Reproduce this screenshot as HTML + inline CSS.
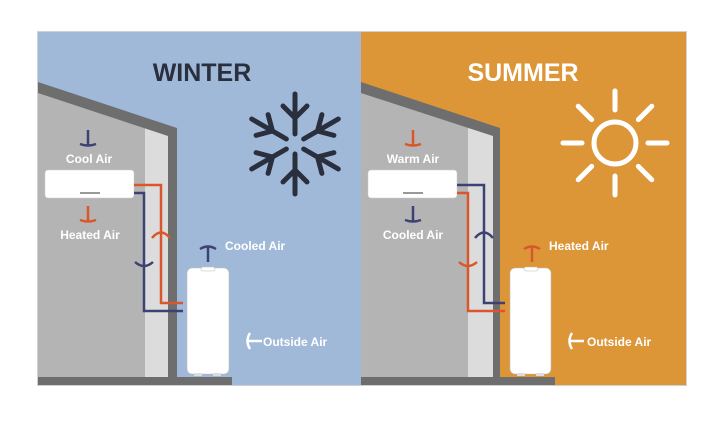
<!DOCTYPE html>
<html><head><style>
html,body{margin:0;padding:0;background:#fff;}
svg{display:block}
text{font-family:"Liberation Sans",sans-serif;font-weight:bold;}
</style></head><body>
<svg width="723" height="425" viewBox="0 0 723 425" xmlns="http://www.w3.org/2000/svg">
<defs>
<g id="arm" stroke="#2a2f3e" stroke-width="5" stroke-linecap="round" fill="none">
  <line x1="0" y1="-10" x2="0" y2="-50"/>
  <polyline points="-12,-38 0,-26 12,-38"/>
</g>
<g id="ray" stroke="#fff" stroke-width="5" stroke-linecap="round">
  <line x1="0" y1="-33" x2="0" y2="-52"/>
</g>
</defs>
<!-- frame -->
<rect x="37.5" y="31.5" width="649" height="354" fill="none" stroke="#d0d0d0"/>
<!-- WINTER -->
<rect x="38" y="32" width="323" height="353" fill="#a1b9d9"/>
<polygon points="38,92 177,138 177,385 38,385" fill="#b4b4b4"/>
<polygon points="145,128 168,134 168,385 145,385" fill="#dcdcdc"/>
<polygon points="38,82 177,128 177,378 168,378 168,136 38,93" fill="#6e6e6e"/>
<rect x="38" y="377" width="194" height="8" fill="#6e6e6e"/>
<text x="202" y="81" font-size="25" fill="#2a2f3e" text-anchor="middle">WINTER</text>
<g transform="translate(295,144)">
<use href="#arm"/><use href="#arm" transform="rotate(60)"/><use href="#arm" transform="rotate(120)"/><use href="#arm" transform="rotate(180)"/><use href="#arm" transform="rotate(240)"/><use href="#arm" transform="rotate(300)"/>
</g>
<rect x="45" y="170" width="89" height="28" rx="3" fill="#fff" stroke="#ccc" stroke-width="0.5"/>
<rect x="80" y="192" width="20" height="2" fill="#999"/>
<polyline points="134,185 161,185 161,303 183,303" fill="none" stroke="#d9572a" stroke-width="2.5"/>
<polyline points="134,193 144,193 144,311 183,311" fill="none" stroke="#3c4274" stroke-width="2.5"/>
<path d="M152,238 Q161,227 170,238" fill="none" stroke="#d9572a" stroke-width="2.5"/>
<path d="M135,262 Q144,270 153,262" fill="none" stroke="#3c4274" stroke-width="2.5"/>
<g fill="none" stroke-width="2.5">
<path d="M88,130 V146 M80,144 Q88,147 96,144" stroke="#3c4274"/>
<path d="M88,206 V222 M80,220 Q88,223 96,220" stroke="#d9572a"/>
<path d="M208,262 V246 M200,249 Q208,244 216,249" stroke="#3c4274"/>
<path d="M262,341 H247 M250,333 Q245,341 250,349" stroke="#fff"/>
</g>
<text x="89" y="163" font-size="12" fill="#fff" text-anchor="middle">Cool Air</text>
<text x="90" y="239" font-size="12" fill="#fff" text-anchor="middle">Heated Air</text>
<text x="225" y="250" font-size="12" fill="#fff">Cooled Air</text>
<text x="263" y="346" font-size="12" fill="#fff">Outside Air</text>
<rect x="187" y="268" width="42" height="106" rx="5" fill="#fff" stroke="#bbb" stroke-width="0.6"/>
<rect x="201" y="267" width="14" height="4" rx="2" fill="#fff" stroke="#bbb" stroke-width="0.6"/>
<rect x="194" y="373" width="8" height="3" fill="#ddd"/><rect x="213" y="373" width="8" height="3" fill="#ddd"/>
<!-- SUMMER -->
<rect x="361" y="32" width="325" height="353" fill="#dc9638"/>
<polygon points="361,92 500,138 500,385 361,385" fill="#b4b4b4"/>
<polygon points="468,128 493,134 493,385 468,385" fill="#dcdcdc"/>
<polygon points="361,82 500,128 500,378 493,378 493,136 361,93" fill="#6e6e6e"/>
<rect x="361" y="377" width="194" height="8" fill="#6e6e6e"/>
<text x="523" y="81" font-size="25" fill="#fff" text-anchor="middle">SUMMER</text>
<g transform="translate(615,143)">
<circle r="21" fill="none" stroke="#fff" stroke-width="5"/>
<use href="#ray"/><use href="#ray" transform="rotate(45)"/><use href="#ray" transform="rotate(90)"/><use href="#ray" transform="rotate(135)"/><use href="#ray" transform="rotate(180)"/><use href="#ray" transform="rotate(225)"/><use href="#ray" transform="rotate(270)"/><use href="#ray" transform="rotate(315)"/>
</g>
<rect x="368" y="170" width="89" height="28" rx="3" fill="#fff" stroke="#ccc" stroke-width="0.5"/>
<rect x="403" y="192" width="20" height="2" fill="#999"/>
<polyline points="457,185 484,185 484,303 505,303" fill="none" stroke="#3c4274" stroke-width="2.5"/>
<polyline points="457,193 468,193 468,311 505,311" fill="none" stroke="#d9572a" stroke-width="2.5"/>
<path d="M475,238 Q484,227 493,238" fill="none" stroke="#3c4274" stroke-width="2.5"/>
<path d="M459,262 Q468,270 477,262" fill="none" stroke="#d9572a" stroke-width="2.5"/>
<g fill="none" stroke-width="2.5">
<path d="M413,130 V146 M405,144 Q413,147 421,144" stroke="#d9572a"/>
<path d="M413,206 V222 M405,220 Q413,223 421,220" stroke="#3c4274"/>
<path d="M532,262 V246 M524,249 Q532,244 540,249" stroke="#d9572a"/>
<path d="M584,341 H569 M572,333 Q567,341 572,349" stroke="#fff"/>
</g>
<text x="413" y="163" font-size="12" fill="#fff" text-anchor="middle">Warm Air</text>
<text x="413" y="239" font-size="12" fill="#fff" text-anchor="middle">Cooled Air</text>
<text x="549" y="250" font-size="12" fill="#fff">Heated Air</text>
<text x="587" y="346" font-size="12" fill="#fff">Outside Air</text>
<rect x="510" y="268" width="41" height="106" rx="5" fill="#fff" stroke="#bbb" stroke-width="0.6"/>
<rect x="524" y="267" width="14" height="4" rx="2" fill="#fff" stroke="#bbb" stroke-width="0.6"/>
<rect x="517" y="373" width="8" height="3" fill="#ddd"/><rect x="536" y="373" width="8" height="3" fill="#ddd"/>
</svg>
</body></html>
